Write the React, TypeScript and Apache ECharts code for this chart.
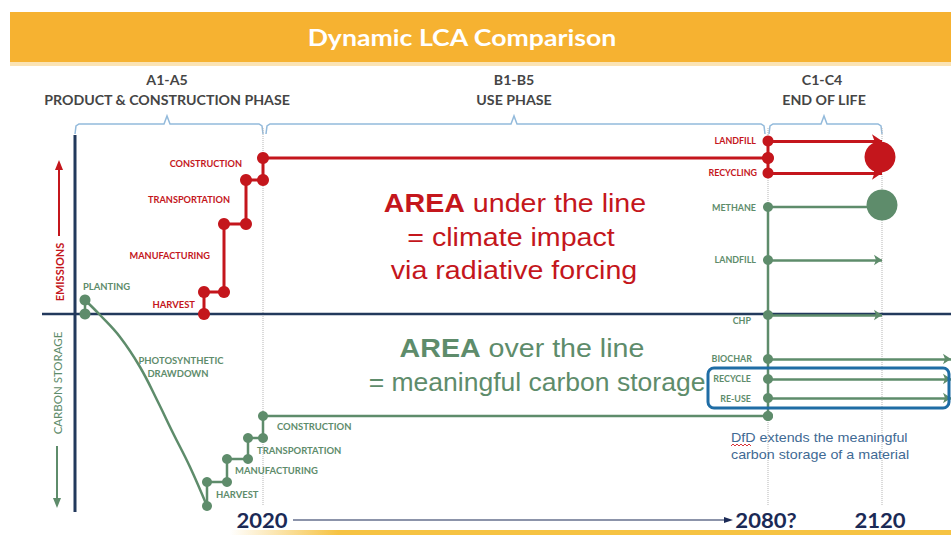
import React, { useEffect, useRef } from 'react';
import * as echarts from 'echarts';

// Coordinate system: x = position along the life-cycle timeline (0 = vertical axis),
// y = carbon flux (positive = emissions, negative = carbon storage)
const X_MIN = -75;
const X_MAX = 876;
const Y_MIN = -221;
const Y_MAX = 314;

const X_2020 = 188;
const X_2080 = 693;
const X_2120 = 807;
const X_EDGE = 876;

// Emissions (red) product-stage staircase
const emissionsSteps: [number, number][] = [
  [129, 0], [129, 22], [149, 22], [149, 90], [171, 90], [171, 134], [188, 134], [188, 156], [693, 156],
];
// Emissions end-of-life branch points
const emissionsEol: [number, number][] = [[693, 173], [693, 156], [693, 141]];
const emissionsEolLevels = [173, 141]; // LANDFILL, RECYCLING
const emissionsBubble: [number, number][] = [[805, 157]];

// Carbon storage (green)
const planting: [number, number][] = [[10, 14], [10, 0]];
const drawdown: [number, number][] = [
  [10, 14], [25, -1], [45, -23], [65, -53], [82, -86], [98, -119], [115, -153], [132, -192],
];
const storageSteps: [number, number][] = [
  [132, -192], [132, -168], [152, -168], [152, -145], [173, -145], [173, -124], [188, -124], [188, -102], [693, -102],
];
const storageEol: [number, number][] = [
  [693, 107], [693, 54], [693, -1], [693, -45], [693, -65], [693, -84], [693, -102],
];
const methaneLine: [number, number][] = [[693, 107], [795, 107]];
const methaneBubble: [number, number][] = [[807, 109]];
const shortArrowLevels = [54, -1]; // LANDFILL, CHP (to 2120)
const longArrowLevels = [-45, -65, -84]; // BIOCHAR, RECYCLE, RE-USE (beyond)

const emissionStageLabels = ['CONSTRUCTION', 'TRANSPORTATION', 'MANUFACTURING', 'HARVEST'];
const storageStageLabels = ['CONSTRUCTION', 'TRANSPORTATION', 'MANUFACTURING', 'HARVEST'];
const emissionEolLabels = ['LANDFILL', 'RECYCLING'];
const storageEolLabels = ['METHANE', 'LANDFILL', 'CHP', 'BIOCHAR', 'RECYCLE', 'RE-USE'];
const yearLabels = ['2020', '2080?', '2120'];
const phaseCodes = ['A1-A5', 'B1-B5', 'C1-C4'];
const phaseNames = ['PRODUCT & CONSTRUCTION PHASE', 'USE PHASE', 'END OF LIFE'];

const RED = '#C4161C';
const GREEN = '#5E8C6B';
const NAVY = '#22395C';
const BRACE = '#93BADB';
const GUIDE = '#B5B5B5';
const SX = 1.12;

function txt(text: string, x: number, y: number, o: any = {}) {
  const align = o.align ?? 'center';
  return {
    type: 'text',
    x,
    y,
    scaleX: o.sx ?? SX,
    rotation: o.rot ?? 0,
    z: 50,
    style: {
      text,
      fill: o.color ?? '#333',
      fontSize: o.size ?? 12,
      fontWeight: o.bold ? 'bold' : 'normal',
      fontFamily: o.font ?? 'Lato',
      textAlign: align,
      align,
      textVerticalAlign: 'middle',
      verticalAlign: 'middle',
      rich: o.rich,
    },
  };
}

function arrowLines(levels: number[], x1: number, x2: number) {
  return levels.map((y) => [{ coord: [x1, y] }, { coord: [x2, y] }]);
}

export default function App() {
  const ref = useRef<HTMLDivElement>(null);
  useEffect(() => {
    if (!ref.current) return;
    const chart = echarts.init(ref.current, undefined, { renderer: 'svg' });

    const lineBase = (name: string, data: any, color: string, width: number, extra: any = {}) => ({
      type: 'line',
      name,
      data,
      silent: true,
      symbol: 'none',
      lineStyle: { color, width },
      itemStyle: { color },
      ...extra,
    });

    const guide = (x: number) =>
      lineBase('guide' + x, [[x, -191], [x, 186]], GUIDE, 1, { lineStyle: { color: GUIDE, width: 1, type: 'dotted' } });

    const phaseStyle = { size: 13.5, bold: true, color: '#454545', sx: 1.05 };

    const option: any = {
      animation: false,
      grid: { left: 0, right: 0, top: 0, bottom: 0 },
      xAxis: { type: 'value', min: X_MIN, max: X_MAX, show: false },
      yAxis: { type: 'value', min: Y_MIN, max: Y_MAX, show: false },
      series: [
        guide(X_2020),
        guide(X_2080),
        guide(X_2120),
        lineBase('vAxis', [[0, 179], [0, -198]], NAVY, 3),
        lineBase('baseline', [[-33, 0], [X_EDGE, 0]], NAVY, 2.5),
        lineBase('emissions', emissionsSteps, RED, 3, { symbol: 'circle', symbolSize: 12, showSymbol: true }),
        lineBase('emissionsEol', emissionsEol, RED, 3, {
          symbol: 'circle',
          symbolSize: 11,
          showSymbol: true,
          markLine: {
            silent: true,
            symbol: ['none', 'arrow'],
            symbolSize: 10,
            label: { show: false },
            lineStyle: { color: RED, width: 3, type: 'solid' },
            data: arrowLines(emissionsEolLevels, X_2080, X_2120),
          },
        }),
        lineBase('planting', planting, GREEN, 2.5, { symbol: 'circle', symbolSize: 11, showSymbol: true }),
        lineBase('drawdown', drawdown, GREEN, 2.5, { smooth: 0.4 }),
        lineBase('storage', storageSteps, GREEN, 2.5, { symbol: 'circle', symbolSize: 10, showSymbol: true }),
        lineBase('methane', methaneLine, GREEN, 2.5),
        lineBase('storageEol', storageEol, GREEN, 2.5, {
          symbol: 'circle',
          symbolSize: 10,
          showSymbol: true,
          markLine: {
            silent: true,
            symbol: ['none', 'arrow'],
            symbolSize: 8,
            label: { show: false },
            lineStyle: { color: GREEN, width: 2.5, type: 'solid' },
            data: [...arrowLines(shortArrowLevels, X_2080, X_2120), ...arrowLines(longArrowLevels, X_2080, X_EDGE)],
          },
        }),
        {
          type: 'scatter',
          silent: true,
          data: emissionsBubble,
          symbolSize: 31,
          itemStyle: { color: RED, opacity: 1 },
          z: 5,
        },
        {
          type: 'scatter',
          silent: true,
          data: methaneBubble,
          symbolSize: 31,
          itemStyle: { color: GREEN, opacity: 1 },
          z: 5,
        },
      ],
      graphic: [
        // title bar
        { type: 'rect', shape: { x: 10, y: 12, width: 941, height: 50 }, style: { fill: '#F6B231' }, z: 1 },
        { type: 'rect', shape: { x: 10, y: 62, width: 941, height: 4 }, style: { fill: '#FBE3B3' }, z: 1 },
        txt('Dynamic LCA Comparison', 462, 37, { color: '#FFFFFF', size: 23, bold: true, sx: 1.16 }),
        // phase headers
        txt(phaseCodes[0], 167, 80, phaseStyle),
        txt(phaseNames[0], 167, 100, phaseStyle),
        txt(phaseCodes[1], 514, 80, phaseStyle),
        txt(phaseNames[1], 514, 100, phaseStyle),
        txt(phaseCodes[2], 822, 80, phaseStyle),
        txt(phaseNames[2], 824, 100, phaseStyle),
        // braces
        {
          type: 'polyline',
          shape: { points: [[75, 134], [76, 126], [79, 124], [164, 124], [167, 116], [170, 124], [259, 124], [262, 126], [263, 134]] },
          style: { stroke: BRACE, lineWidth: 1.5, fill: null },
        },
        {
          type: 'polyline',
          shape: { points: [[266, 134], [267, 126], [270, 124], [511, 124], [514, 116], [517, 124], [761, 124], [764, 126], [765, 134]] },
          style: { stroke: BRACE, lineWidth: 1.5, fill: null },
        },
        {
          type: 'polyline',
          shape: { points: [[769, 134], [770, 126], [773, 124], [821, 124], [824, 116], [827, 124], [878, 124], [881, 126], [882, 134]] },
          style: { stroke: BRACE, lineWidth: 1.5, fill: null },
        },
        // side axis labels
        { type: 'line', shape: { x1: 59, y1: 236, x2: 59, y2: 168 }, style: { stroke: RED, lineWidth: 2 } },
        { type: 'polygon', shape: { points: [[55, 170], [59, 160], [63, 170]] }, style: { fill: RED } },
        txt('EMISSIONS', 59, 272, { rot: Math.PI / 2, sx: 1, size: 11, bold: true, color: RED }),
        txt('CARBON STORAGE', 57, 383, { rot: Math.PI / 2, sx: 1, size: 11.5, color: GREEN }),
        { type: 'line', shape: { x1: 57, y1: 446, x2: 57, y2: 500 }, style: { stroke: GREEN, lineWidth: 2 } },
        { type: 'polygon', shape: { points: [[53, 498], [57, 508], [61, 498]] }, style: { fill: GREEN } },
        // red stage labels
        txt(emissionStageLabels[0], 242, 164, { align: 'right', size: 9, bold: true, color: RED, sx: 1.02 }),
        txt(emissionStageLabels[1], 230, 200, { align: 'right', size: 9, bold: true, color: RED, sx: 1.02 }),
        txt(emissionStageLabels[2], 210, 256, { align: 'right', size: 9, bold: true, color: RED, sx: 1.02 }),
        txt(emissionStageLabels[3], 195, 305, { align: 'right', size: 9, bold: true, color: RED, sx: 1.05 }),
        // green stage labels
        txt('PLANTING', 83, 287, { align: 'left', size: 9, bold: true, color: GREEN, sx: 1.05 }),
        txt('PHOTOSYNTHETIC', 181, 361, { size: 9, bold: true, color: GREEN, sx: 1.05 }),
        txt('DRAWDOWN', 178, 374, { size: 9, bold: true, color: GREEN, sx: 1.05 }),
        txt(storageStageLabels[0], 277, 427, { align: 'left', size: 9, bold: true, color: GREEN, sx: 1.05 }),
        txt(storageStageLabels[1], 257, 451, { align: 'left', size: 9, bold: true, color: GREEN, sx: 1.05 }),
        txt(storageStageLabels[2], 235, 471, { align: 'left', size: 9, bold: true, color: GREEN, sx: 1.05 }),
        txt(storageStageLabels[3], 216, 495, { align: 'left', size: 9, bold: true, color: GREEN, sx: 1.05 }),
        // end-of-life labels
        txt(emissionEolLabels[0], 756, 141, { align: 'right', size: 8.5, bold: true, color: RED, sx: 1.05 }),
        txt(emissionEolLabels[1], 757, 173, { align: 'right', size: 8.5, bold: true, color: RED, sx: 1.05 }),
        txt(storageEolLabels[0], 756, 208, { align: 'right', size: 8.5, bold: true, color: GREEN, sx: 1.05 }),
        txt(storageEolLabels[1], 756, 260, { align: 'right', size: 8.5, bold: true, color: GREEN, sx: 1.05 }),
        txt(storageEolLabels[2], 751, 321, { align: 'right', size: 8.5, bold: true, color: GREEN, sx: 1.05 }),
        txt(storageEolLabels[3], 752, 359, { align: 'right', size: 8.5, bold: true, color: GREEN, sx: 1.05 }),
        txt(storageEolLabels[4], 751, 379, { align: 'right', size: 8.5, bold: true, color: GREEN, sx: 1.05 }),
        txt(storageEolLabels[5], 751, 399, { align: 'right', size: 8.5, bold: true, color: GREEN, sx: 1.05 }),
        // central messages
        txt('{b|AREA} under the line', 515, 203, {
          size: 26, color: RED, font: 'Liberation Sans', sx: 1.1,
          rich: { b: { fontWeight: 'bold', fontSize: 26, fill: RED, fontFamily: 'Liberation Sans' } },
        }),
        txt('= climate impact', 511, 237, { size: 26, color: RED, font: 'Liberation Sans', sx: 1.1 }),
        txt('via radiative forcing', 514, 270, { size: 26, color: RED, font: 'Liberation Sans', sx: 1.1 }),
        txt('{b|AREA} over the line', 522, 348, {
          size: 26, color: GREEN, font: 'Liberation Sans', sx: 1.1,
          rich: { b: { fontWeight: 'bold', fontSize: 26, fill: GREEN, fontFamily: 'Liberation Sans' } },
        }),
        txt('= meaningful carbon storage', 537, 382, { size: 26, color: GREEN, font: 'Liberation Sans', sx: 1.02 }),
        // DfD box and note
        {
          type: 'rect',
          shape: { x: 708, y: 368, width: 241, height: 40, r: 6 },
          style: { stroke: '#1F6DA5', lineWidth: 3, fill: null },
          z: 60,
        },
        txt('DfD extends the meaningful', 731, 437, { align: 'left', size: 13.5, color: '#3F6A94', font: 'Liberation Sans', sx: 1.06 }),
        txt('carbon storage of a material', 731, 454, { align: 'left', size: 13.5, color: '#3F6A94', font: 'Liberation Sans', sx: 1.06 }),
        {
          type: 'polyline',
          shape: { points: [[731, 446], [733, 444], [735, 446], [737, 444], [739, 446], [741, 444], [743, 446], [745, 444], [747, 446], [749, 444], [751, 446]] },
          style: { stroke: '#D9343A', lineWidth: 1, fill: null },
        },
        // timeline
        txt(yearLabels[0], 262, 520, { size: 21, bold: true, color: '#1B2A56', sx: 1.05 }),
        txt(yearLabels[1], 766, 520, { size: 21, bold: true, color: '#1B2A56', sx: 1.05 }),
        txt(yearLabels[2], 880, 520, { size: 21, bold: true, color: '#1B2A56', sx: 1.05 }),
        { type: 'line', shape: { x1: 293, y1: 520, x2: 726, y2: 520 }, style: { stroke: '#1B2A56', lineWidth: 1.2 } },
        { type: 'polygon', shape: { points: [[724, 517], [733, 520], [724, 523]] }, style: { fill: '#1B2A56' } },
        {
          type: 'rect',
          shape: { x: 230, y: 530, width: 721, height: 5 },
          style: {
            fill: new echarts.graphic.LinearGradient(0, 0, 1, 0, [
              { offset: 0, color: 'rgba(246,195,67,0)' },
              { offset: 0.15, color: '#F6C343' },
              { offset: 1, color: '#F6C343' },
            ]),
          },
        },
      ],
    };
    chart.setOption(option);
    return () => chart.dispose();
  }, []);
  return <div ref={ref} style={{ position: 'fixed', left: 0, top: 0, width: 951, height: 535, background: '#fff' }} />;
}
